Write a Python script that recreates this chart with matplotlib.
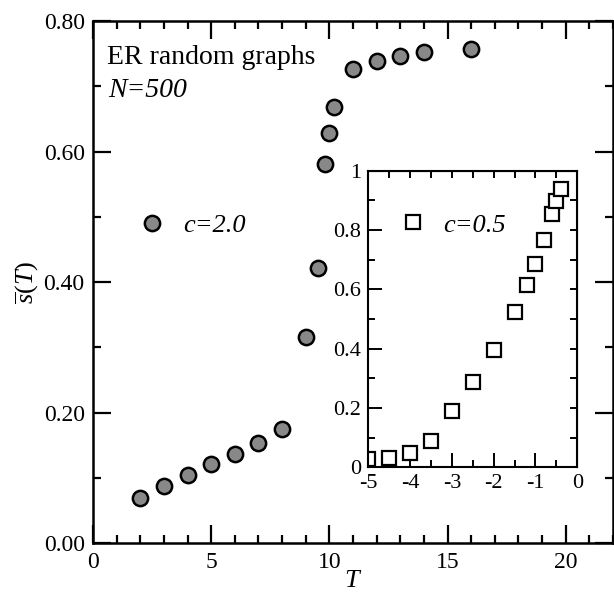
import numpy as np
import matplotlib
matplotlib.use("Agg")
import matplotlib.pyplot as plt
from matplotlib.ticker import MultipleLocator, FormatStrFormatter, NullFormatter

plt.rcParams['font.family'] = 'Liberation Serif'
plt.rcParams['mathtext.fontset'] = 'custom'
plt.rcParams['mathtext.rm'] = 'Liberation Serif'
plt.rcParams['mathtext.it'] = 'Liberation Serif:italic'
plt.rcParams['axes.unicode_minus'] = False

# main data, c = 2.0
T_main = [2, 3, 4, 5, 6, 7, 8, 9, 9.5, 9.8, 10, 10.2, 11, 12, 13, 14, 16]
s_main = [0.070, 0.088, 0.105, 0.121, 0.137, 0.153, 0.175, 0.316, 0.421,
          0.581, 0.628, 0.668, 0.726, 0.738, 0.747, 0.752, 0.757]

# inset data, c = 0.5
T_inset = [-5, -4.5, -4, -3.5, -3, -2.5, -2, -1.5, -1.2, -1.0, -0.8, -0.6, -0.5, -0.4]
s_inset = [0.028, 0.032, 0.047, 0.089, 0.191, 0.289, 0.395, 0.524, 0.616,
           0.687, 0.766, 0.854, 0.899, 0.939]

fig = plt.figure(figsize=(6.14, 5.93), dpi=100)

# ---- main axes ----
ax = fig.add_axes([0.1515, 0.0838, 0.8469, 0.8808])
ax.plot(T_main, s_main, 'o', ms=11, mfc='#888888', mec='black', mew=1.8,
        label='c=2.0')
ax.set_xlim(0, 22)
ax.set_ylim(0, 0.8)
ax.xaxis.set_major_locator(MultipleLocator(5))
ax.xaxis.set_minor_locator(MultipleLocator(1))
ax.yaxis.set_major_locator(MultipleLocator(0.2))
ax.yaxis.set_minor_locator(MultipleLocator(0.1))
ax.yaxis.set_major_formatter(FormatStrFormatter('%.2f'))
ax.tick_params(which='both', direction='in', top=True, right=True,
               width=1.6, labelsize=17, pad=6)
ax.tick_params(which='major', length=13)
ax.tick_params(which='minor', length=5.5)
for sp in ax.spines.values():
    sp.set_linewidth(1.8)
ax.set_xlabel('$T$', fontsize=19, labelpad=-2)
ax.set_ylabel(r'$\overline{s}(T)$', fontsize=19, labelpad=2)

ax.text(0.027, 0.931, 'ER random graphs', transform=ax.transAxes,
        fontsize=20, va='center', ha='left')
ax.text(0.029, 0.867, 'N=500', transform=ax.transAxes, fontsize=20,
        style='italic', va='center', ha='left')

ax.legend(loc='center left', bbox_to_anchor=(0.088, 0.609),
          frameon=False, handlelength=1.0, handletextpad=0.7,
          borderpad=0, borderaxespad=0, numpoints=1,
          prop={'size': 19, 'style': 'italic'})

# ---- inset ----
axi = fig.add_axes([0.5998, 0.212, 0.3404, 0.5002])
axi.plot(T_inset, s_inset, 's', ms=10, mfc='white', mec='black', mew=1.6,
         label='c=0.5')
axi.set_xlim(-5, 0)
axi.set_ylim(0, 1)
axi.xaxis.set_major_locator(MultipleLocator(1))
axi.xaxis.set_minor_locator(MultipleLocator(0.5))
axi.yaxis.set_major_locator(MultipleLocator(0.2))
axi.yaxis.set_minor_locator(MultipleLocator(0.1))
axi.xaxis.set_major_formatter(FormatStrFormatter('%g'))
axi.yaxis.set_major_formatter(FormatStrFormatter('%g'))
axi.tick_params(which='both', direction='in', width=1.4, labelsize=16, pad=5)
axi.tick_params(which='major', length=10)
axi.tick_params(which='minor', length=5)
for sp in axi.spines.values():
    sp.set_linewidth(1.5)

# short ticks on the opposite sides of the inset
top = axi.secondary_xaxis('top')
top.xaxis.set_major_locator(MultipleLocator(0.5))
top.xaxis.set_major_formatter(NullFormatter())
top.tick_params(direction='in', length=5, width=1.4)
right = axi.secondary_yaxis('right')
right.yaxis.set_major_locator(MultipleLocator(0.1))
right.yaxis.set_major_formatter(NullFormatter())
right.tick_params(direction='in', length=5, width=1.4)

axi.legend(loc='center left', bbox_to_anchor=(0.153, 0.817),
           frameon=False, handlelength=1.0, handletextpad=0.64,
           borderpad=0, borderaxespad=0, numpoints=1,
           prop={'size': 19, 'style': 'italic'})

fig.savefig('out.png', dpi=100)
